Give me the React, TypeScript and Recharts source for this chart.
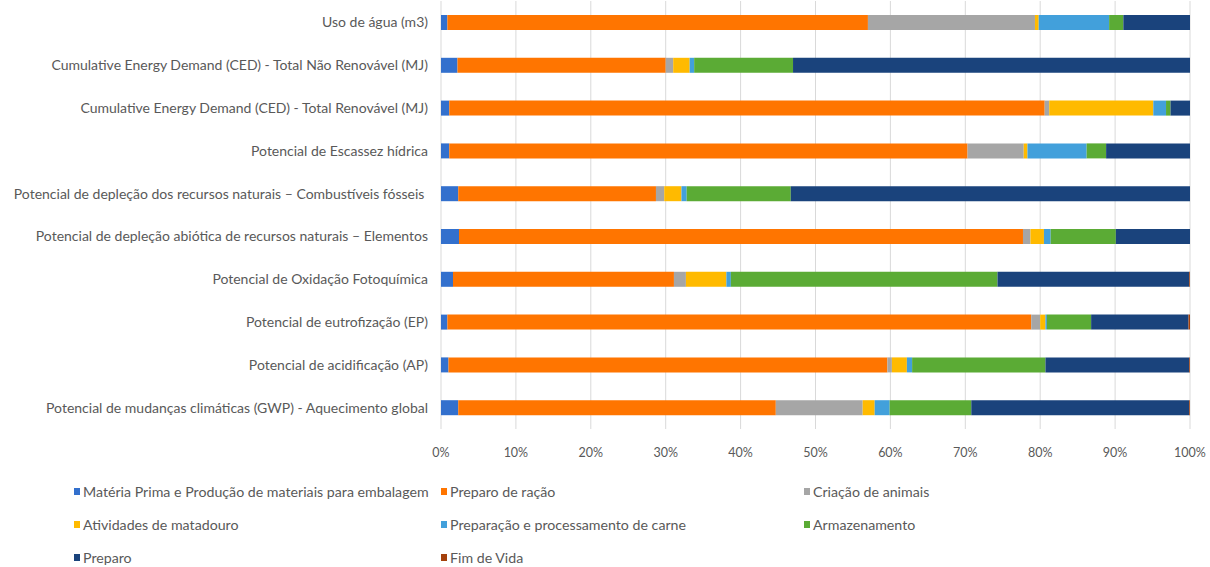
import React from 'react';
import { BarChart, Bar, XAxis, YAxis, CartesianGrid, Legend } from 'recharts';

const CATEGORIES = [
  'Uso de água (m3)',
  'Cumulative Energy Demand (CED) - Total Não Renovável (MJ)',
  'Cumulative Energy Demand (CED) - Total Renovável (MJ)',
  'Potencial de Escassez hídrica',
  'Potencial de depleção dos recursos naturais – Combustíveis fósseis\u00a0',
  'Potencial de depleção abiótica de recursos naturais – Elementos',
  'Potencial de Oxidação Fotoquímica',
  'Potencial de eutrofização (EP)',
  'Potencial de acidificação (AP)',
  'Potencial de mudanças climáticas (GWP) - Aquecimento global',
];

const MATERIA_PRIMA = [0.85, 2.2, 1.1, 1.1, 2.3, 2.4, 1.6, 0.85, 1.0, 2.3];
const PREPARO_RACAO = [56.15, 27.8, 79.5, 69.2, 26.4, 75.3, 29.5, 77.95, 58.6, 42.4];
const CRIACAO_ANIMAIS = [22.3, 1.0, 0.6, 7.5, 1.1, 1.0, 1.6, 1.2, 0.6, 11.6];
const ATIVIDADES_MATADOURO = [0.5, 2.2, 13.9, 0.5, 2.3, 1.8, 5.4, 0.7, 2.0, 1.6];
const PREPARACAO_CARNE = [9.4, 0.6, 1.7, 7.9, 0.7, 0.9, 0.6, 0.2, 0.7, 2.0];
const ARMAZENAMENTO = [1.9, 13.2, 0.6, 2.6, 13.9, 8.7, 35.6, 5.9, 17.8, 10.9];
const PREPARO = [8.9, 53.0, 2.6, 11.2, 53.3, 9.9, 25.6, 13.0, 19.2, 29.1];
const FIM_DE_VIDA = [0, 0, 0, 0, 0, 0, 0.1, 0.2, 0.1, 0.1];

const X_TICKS = [0, 0.1, 0.2, 0.3, 0.4, 0.5, 0.6, 0.7, 0.8, 0.9, 1];

const SERIES = [
  { key: 'materia', name: 'Matéria Prima e Produção de materiais para embalagem', color: '#3370CD', values: MATERIA_PRIMA },
  { key: 'racao', name: 'Preparo de ração', color: '#FF7500', values: PREPARO_RACAO },
  { key: 'criacao', name: 'Criação de animais', color: '#A6A6A6', values: CRIACAO_ANIMAIS },
  { key: 'matadouro', name: 'Atividades de matadouro', color: '#FFBA00', values: ATIVIDADES_MATADOURO },
  { key: 'carne', name: 'Preparação e processamento de carne', color: '#42A0DB', values: PREPARACAO_CARNE },
  { key: 'armazenamento', name: 'Armazenamento', color: '#5BAB35', values: ARMAZENAMENTO },
  { key: 'preparo', name: 'Preparo', color: '#1A437C', values: PREPARO },
  { key: 'fim', name: 'Fim de Vida', color: '#A4410C', values: FIM_DE_VIDA },
];

const data = CATEGORIES.map((c, i) => {
  const row: Record<string, any> = { name: c };
  SERIES.forEach((s) => {
    row[s.key] = s.values[i];
  });
  return row;
});

const FONT = 'Lato, "Open Sans", sans-serif';
const TEXT = '#595959';
const COL_X = [74, 441, 804];

const LegendContent = () => (
  <div style={{ position: 'relative', width: 1210, height: 110, fontFamily: FONT, fontSize: 14.2, color: TEXT }}>
    {SERIES.map((s, i) => {
      const col = i % 3;
      const row = Math.floor(i / 3);
      return (
        <div
          key={s.key}
          style={{
            position: 'absolute',
            left: COL_X[col],
            top: 17.5 + row * 33,
            height: 33,
            display: 'flex',
            alignItems: 'center',
            whiteSpace: 'nowrap',
          }}
        >
          <span style={{ display: 'inline-block', width: 6, height: 7, background: s.color, marginRight: 3 }} />
          <span>{s.name}</span>
        </div>
      );
    })}
  </div>
);

export default function App() {
  return (
    <div style={{ position: 'absolute', left: 0, top: 0, width: 1210, height: 567, background: '#fff' }}>
      <BarChart
        width={1210}
        height={567}
        data={data}
        layout="vertical"
        stackOffset="expand"
        margin={{ top: 1, right: 20, bottom: 0, left: 0 }}
        barSize={15}
      >
        <CartesianGrid horizontal={false} stroke="#d9d9d9" />
        <XAxis
          type="number"
          domain={[0, 1]}
          ticks={X_TICKS}
          tickFormatter={(v: number) => `${Math.round(v * 100)}%`}
          axisLine={false}
          tickLine={false}
          tickSize={0}
          tickMargin={19}
          height={28}
          tick={{ fill: TEXT, fontSize: 12.5, fontFamily: FONT }}
        />
        <YAxis
          type="category"
          dataKey="name"
          width={441}
          axisLine={false}
          tickLine={false}
          tickSize={0}
          tickMargin={13}
          interval={0}
          tick={{ fill: TEXT, fontSize: 14, fontFamily: FONT }}
        />
        {SERIES.map((s) => (
          <Bar key={s.key} dataKey={s.key} name={s.name} stackId="a" fill={s.color} isAnimationActive={false} />
        ))}
        <Legend
          verticalAlign="bottom"
          height={110}
          content={<LegendContent />}
          wrapperStyle={{ left: 0, top: 457, width: 1210, height: 110 }}
        />
      </BarChart>
    </div>
  );
}
